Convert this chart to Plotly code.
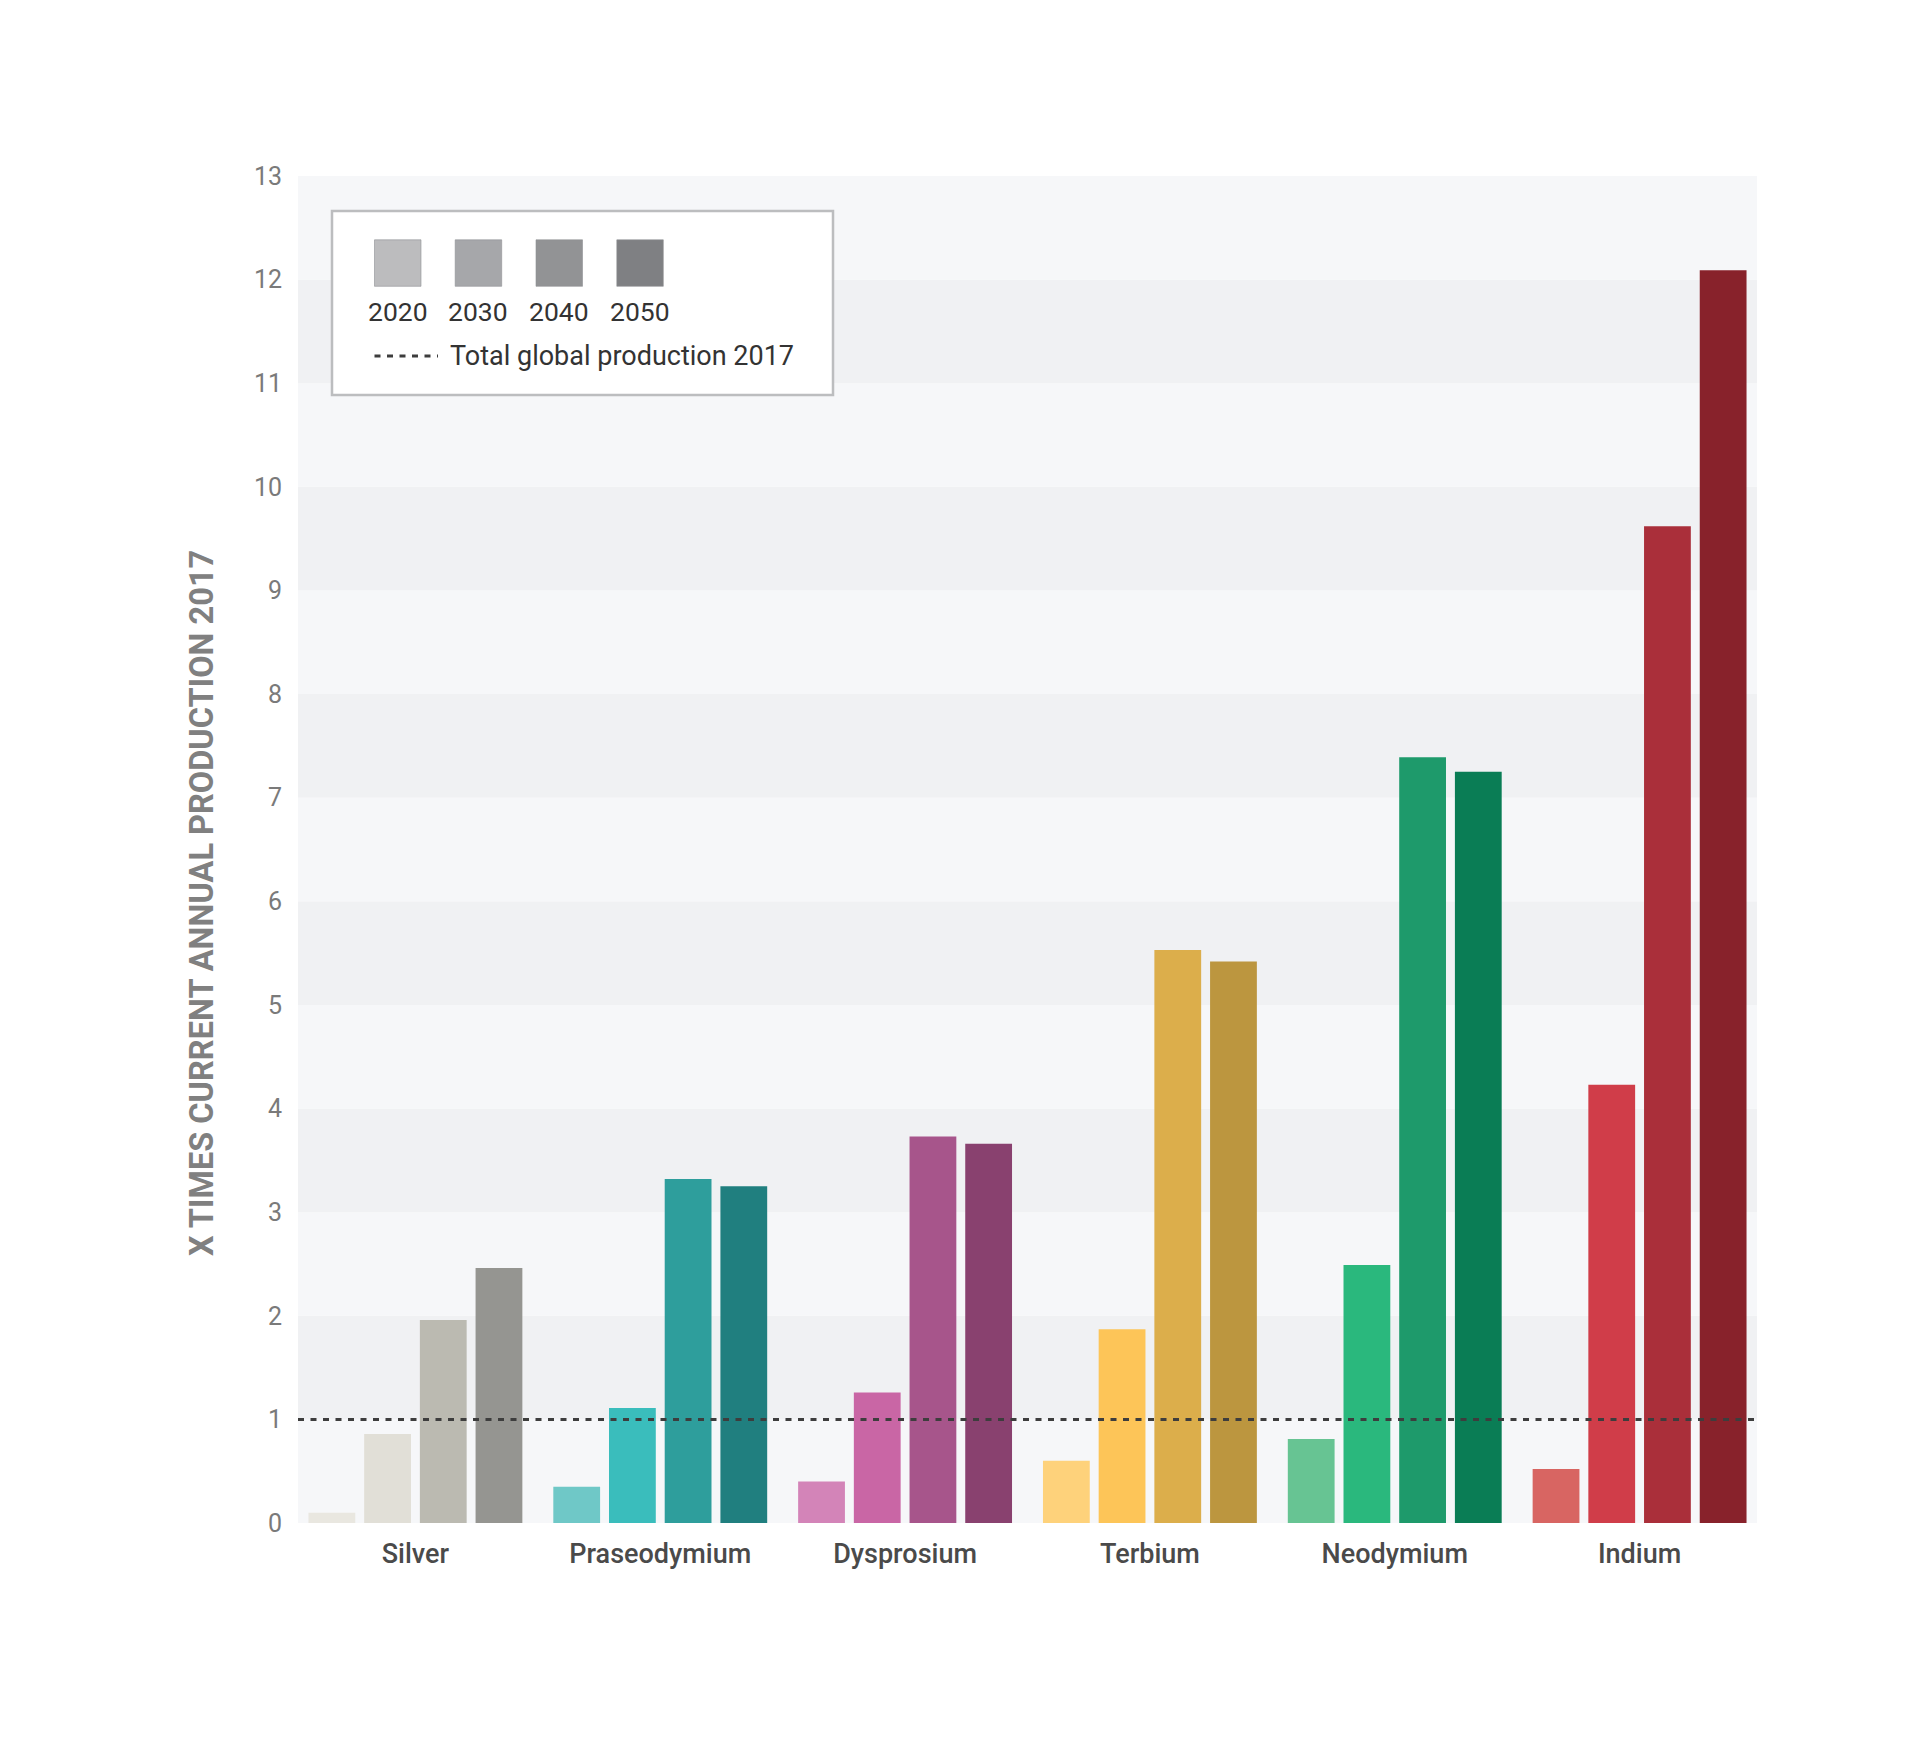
import plotly.graph_objects as go

# ---------------- data ----------------
categories = ["Silver", "Praseodymium", "Dysprosium", "Terbium", "Neodymium", "Indium"]
years = ["2020", "2030", "2040", "2050"]
values_2020 = [0.10, 0.35, 0.40, 0.60, 0.81, 0.52]
values_2030 = [0.86, 1.11, 1.26, 1.87, 2.49, 4.23]
values_2040 = [1.96, 3.32, 3.73, 5.53, 7.39, 9.62]
values_2050 = [2.46, 3.25, 3.66, 5.42, 7.25, 12.09]
series_values = [values_2020, values_2030, values_2040, values_2050]
total_global_production_2017 = 1
y_ticks = list(range(0, 14))
y_title = "X TIMES CURRENT ANNUAL PRODUCTION 2017"
line_label = "Total global production 2017"

# colours per (year, category)
colors_2020 = ["#e9e7e0", "#6fc8c7", "#d384b8", "#fed27b", "#67c493", "#d86562"]
colors_2030 = ["#e1dfd7", "#3abdbc", "#c966a5", "#fdc558", "#2ab87d", "#d03d49"]
colors_2040 = ["#bbbab1", "#2e9e9c", "#a7558b", "#dcae4b", "#1e9a6b", "#aa2f3a"]
colors_2050 = ["#959591", "#207f7f", "#89416f", "#bc963f", "#0a7d55", "#88222b"]
series_colors = [colors_2020, colors_2030, colors_2040, colors_2050]
legend_colors = ["#bcbcbe", "#a6a7aa", "#929395", "#7f8083"]

# ---------------- layout geometry ----------------
W, H = 1920, 1762
L, R, T, B = 285, 1754, 168, 1515
BG_L, BG_R = 290, 1749


def px(x):
    return (x - L) / (R - L)


def py(y):
    return (B - y) / (B - T)


fig = go.Figure()
for yr, vals, cols in zip(years, series_values, series_colors):
    fig.add_trace(go.Bar(
        name=yr, x=categories, y=vals,
        marker=dict(color=cols, line=dict(width=0)),
        showlegend=False,
    ))

shapes = []
# alternating background bands
for i in y_ticks[:-1]:
    shapes.append(dict(type="rect", xref="paper", yref="y", x0=px(BG_L), x1=px(BG_R),
                       y0=i, y1=i + 1,
                       fillcolor="#f0f1f3" if i % 2 == 1 else "#f6f7f9",
                       line=dict(width=0), layer="below"))
# reference line
shapes.append(dict(type="line", xref="paper", yref="y", x0=px(BG_L), x1=px(BG_R),
                   y0=total_global_production_2017, y1=total_global_production_2017,
                   line=dict(color="#3d3d3d", width=3, dash="6px,6.5px"), layer="above"))

# custom legend
shapes.append(dict(type="rect", xref="paper", yref="paper",
                   x0=px(324), x1=px(825), y0=py(387), y1=py(203),
                   fillcolor="#ffffff", line=dict(color="#bcbdbf", width=2.5), layer="above"))
annotations = []
sq_left = [366.5, 447.2, 528, 608.8]
SQ = 46.5
for xl, c, yr in zip(sq_left, legend_colors, years):
    shapes.append(dict(type="rect", xref="paper", yref="paper",
                       x0=px(xl), x1=px(xl + SQ), y0=py(278.3), y1=py(231.8),
                       fillcolor=c, line=dict(color="#8f9093", width=0.6), layer="above"))
    annotations.append(dict(xref="paper", yref="paper", x=px(xl + SQ / 2), y=py(303),
                            text=yr, showarrow=False, xanchor="center", yanchor="middle",
                            font=dict(family="Roboto", size=26.5, color="#333333")))
shapes.append(dict(type="line", xref="paper", yref="paper", x0=px(366.5), x1=px(430),
                   y0=py(348), y1=py(348),
                   line=dict(color="#3d3d3d", width=3, dash="6px,6.5px"), layer="above"))
annotations.append(dict(xref="paper", yref="paper", x=px(440), y=py(348),
                        text=line_label, showarrow=False, xanchor="left", yanchor="middle",
                        font=dict(family="Roboto", size=27, color="#333333")))
# y-axis title
annotations.append(dict(xref="paper", yref="paper", x=px(194), y=py(895),
                        text=y_title, showarrow=False, textangle=-90,
                        xanchor="center", yanchor="middle",
                        font=dict(family="Roboto", size=32.5, color="#808080", weight="bold")))

fig.update_layout(
    width=W, height=H,
    margin=dict(l=L, r=W - R, t=T, b=H - B, pad=0),
    paper_bgcolor="#ffffff",
    plot_bgcolor="#ffffff",
    barmode="group",
    bargap=0.09,
    bargroupgap=0.16,
    shapes=shapes,
    annotations=annotations,
    showlegend=False,
)
fig.update_xaxes(
    showgrid=False, zeroline=False, showline=False, ticks="",
    tickfont=dict(family="Roboto", size=27, color="#4a4a4a", weight=500),
    ticklabelstandoff=12,
)
fig.update_yaxes(
    range=[0, 13], tickvals=y_ticks, showgrid=False, zeroline=False, showline=False,
    ticks="", tickfont=dict(family="Roboto", size=25, color="#7a7a7a"),
    ticklabelstandoff=10,
)

fig.write_html("out.html")
